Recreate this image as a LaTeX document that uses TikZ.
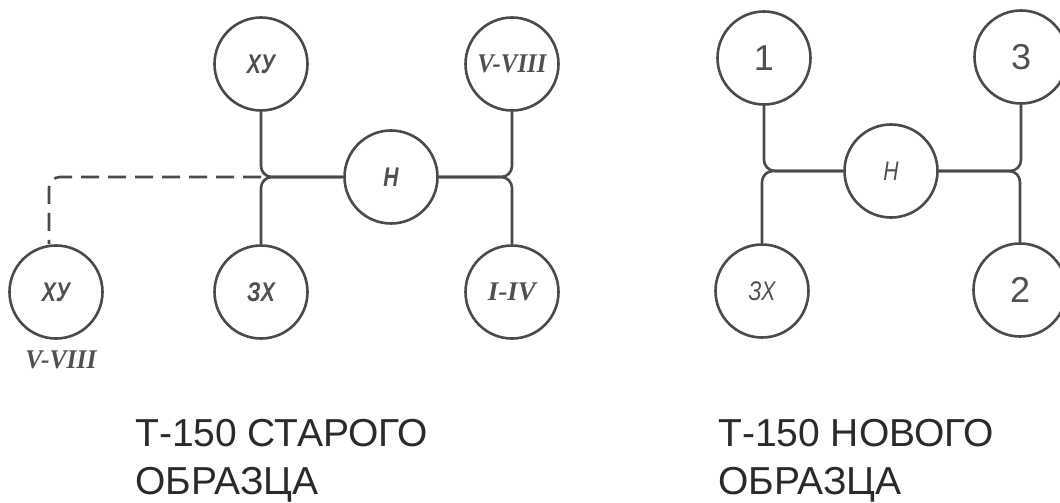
\documentclass[tikz,border=0pt]{standalone}
\usepackage{fontspec}
\setmainfont{Liberation Sans}
\newfontfamily\numfont{Liberation Serif}
\definecolor{ink}{HTML}{4A4A4A}
\definecolor{lab}{HTML}{505050}
\definecolor{txt}{HTML}{2A2A2A}
\tikzset{
  gear/.style={circle, draw=ink, line width=2.6pt, minimum size=93pt, inner sep=0pt, text=lab},
  conn/.style={draw=ink, line width=2.6pt, rounded corners=11pt},
  dconn/.style={conn, dash pattern=on 18pt off 9pt},
  it/.style={font=\fontsize{27}{30}\selectfont\bfseries\itshape},
  rom/.style={font=\fontsize{27}{30}\selectfont\numfont\bfseries\itshape},
  dig/.style={font=\fontsize{36}{40}\selectfont},
  captext/.style={anchor=base west, inner sep=0pt, text=txt, font=\fontsize{39}{46}\selectfont}
}
\begin{document}
\begin{tikzpicture}[x=1pt,y=-1pt]
\clip (0,0) rectangle (1060,503);
\fill[white] (0,0) rectangle (1060,503);
% ---- old pattern ----
\node[gear,it] (xyT) at (261,64) {\scalebox{0.78}[1]{ХУ}};
\node[gear,it] (hL)  at (391,177) {\scalebox{0.78}[1]{Н}};
\node[gear,rom] (vt) at (512,64) {\scalebox{0.92}[1]{V-VIII}};
\node[gear,it] (xyB) at (56,292) {\scalebox{0.78}[1]{ХУ}};
\node[gear,it] (zxL) at (261,292) {\scalebox{0.78}[1]{ЗХ}};
\node[gear,rom] (iv) at (512,292) {\scalebox{1.0}[1]{I-IV}};
\node[rom,text=lab,inner sep=0pt] (lblv) at (61,360) {\scalebox{0.95}[1]{V-VIII}};
\coordinate (jL) at (xyT.south |- hL.west);
\draw[conn] (xyT.south) |- (hL.west);
\draw[conn] (zxL.north) |- (hL.west);
\draw[conn] (vt.south) |- (hL.east);
\draw[conn] (iv.north) |- (hL.east);
\draw[dconn] (jL) -| ([xshift=-7pt]xyB.north);
% ---- new pattern ----
\node[gear,dig] (n1) at (764,58) {1};
\node[gear,it] (hR) at (891,171) {\scalebox{0.78}[1]{\mdseries Н}};
\node[gear,dig] (n3) at (1021,57) {3};
\node[gear,it] (zxR) at (762,291) {\scalebox{0.78}[1]{\mdseries ЗХ}};
\node[gear,dig] (n2) at (1020,290) {2};
\draw[conn] (n1.south) |- (hR.west);
\draw[conn] (zxR.north) |- (hR.west);
\draw[conn] (n3.south) |- (hR.east);
\draw[conn] (n2.north) |- (hR.east);
% ---- captions ----
\node[captext] (c1) at (135,446) {Т-150 СТАРОГО};
\node[captext] (c2) at (135,494) {ОБРАЗЦА};
\node[captext] (c3) at (718,446) {Т-150 НОВОГО};
\node[captext] (c4) at (718,494) {ОБРАЗЦА};
\end{tikzpicture}
\end{document}
